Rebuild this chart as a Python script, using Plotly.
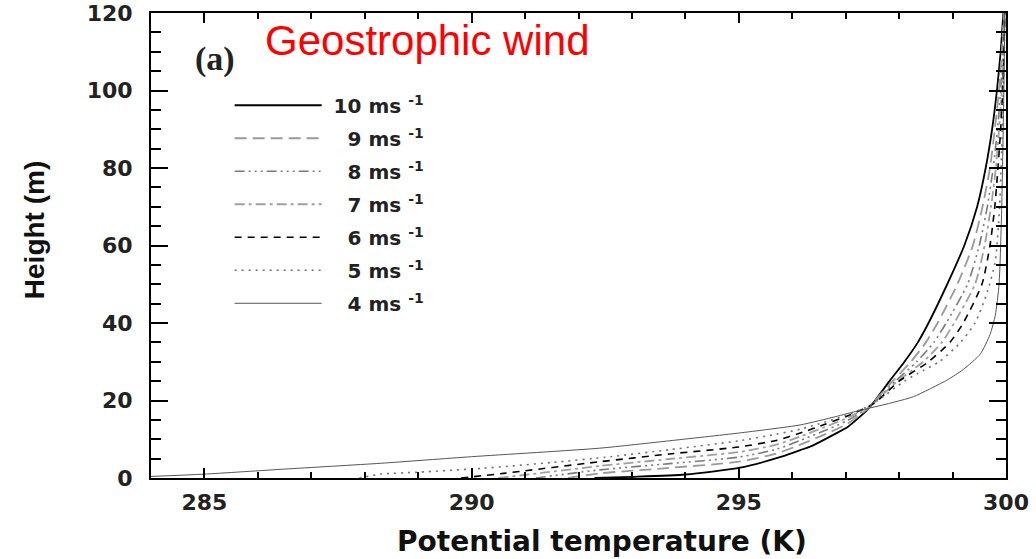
import plotly.graph_objects as go

# Potential temperature profiles (K) against height (m) for each geostrophic wind speed
theta_10 = [292.3, 293.0, 294.0, 295.0, 295.8, 296.15, 296.4, 296.75, 297.05, 297.4, 297.55, 297.82,
            298.1, 298.35, 298.55, 298.9, 299.22, 299.46, 299.62, 299.74, 299.83, 299.9, 299.95]
height_10 = [0, 0.3, 0.9, 2.6, 5.5, 7.2, 8.5, 11.0, 13.3, 17.5, 20, 25,
             30, 35, 40, 50, 60, 70, 80, 90, 100, 110, 120]

theta_9 = [291.8, 292.4, 293.6, 295.0, 295.7, 296.15, 296.6, 297.03, 297.45, 297.55, 297.88,
           298.22, 298.5, 298.72, 299.09, 299.38, 299.56, 299.7, 299.79, 299.87, 299.92, 299.96]
height_9 = [0, 1.2, 2.5, 4.2, 6.3, 8.6, 11.2, 14.0, 18.3, 20, 25,
            30, 35, 40, 50, 60, 70, 80, 90, 100, 110, 120]

theta_8 = [291.2, 292.4, 293.7, 295.0, 295.7, 296.15, 296.6, 297.03, 297.45, 297.57, 297.93,
           298.33, 298.65, 298.88, 299.28, 299.5, 299.65, 299.76, 299.84, 299.9, 299.94, 299.97]
height_8 = [0, 2.1, 3.7, 5.4, 7.4, 9.7, 12.2, 14.8, 18.4, 20, 25,
            30, 35, 40, 50, 60, 70, 80, 90, 100, 110, 120]

theta_7 = [290.5, 291.3, 292.4, 293.7, 295.0, 295.7, 296.15, 296.6, 297.03, 297.45, 297.58, 297.97,
           298.45, 298.8, 299.03, 299.42, 299.6, 299.72, 299.81, 299.87, 299.92, 299.95, 299.97]
height_7 = [0, 1.3, 3.1, 4.9, 6.7, 8.6, 10.7, 13.1, 15.5, 18.5, 20, 25,
            30, 35, 40, 50, 60, 70, 80, 90, 100, 110, 120]

theta_6 = [289.8, 290.6, 292.4, 293.7, 295.0, 295.7, 296.15, 296.6, 297.03, 297.45, 297.6, 298.0,
           298.55, 298.95, 299.2, 299.55, 299.7, 299.79, 299.85, 299.9, 299.94, 299.96, 299.98]
height_6 = [0, 1.2, 4.2, 6.2, 8.0, 9.7, 11.6, 13.8, 16.0, 18.6, 20, 25,
            30, 35, 40, 50, 60, 70, 80, 90, 100, 110, 120]

theta_5 = [287.9, 288.3, 289.0, 290.2, 291.5, 292.6, 293.7, 295.0, 295.7, 296.15, 296.6, 297.03,
           297.45, 297.6, 298.1, 298.35, 298.75, 299.15, 299.42, 299.65, 299.8, 299.88, 299.93,
           299.96, 299.98]
height_5 = [0, 1.0, 1.5, 2.5, 4.0, 5.5, 7.3, 9.6, 11.3, 12.6, 14.4, 16.3,
            18.7, 20, 25, 27, 30, 35, 40, 48, 56, 70, 90,
            105, 120]

theta_4 = [284.0, 285.0, 286.5, 288.3, 290.0, 292.4, 293.7, 295.0, 296.15, 296.8, 297.28, 297.8,
           298.27, 298.9, 299.2, 299.52, 299.7, 299.8, 299.87, 299.92, 299.96, 299.98]
height_4 = [0.4, 1.0, 2.3, 3.8, 5.5, 7.7, 9.6, 11.6, 13.7, 15.8, 17.5, 19.2,
            21, 25.3, 28, 32, 37, 42, 50, 70, 100, 120]

wind_labels = ["10", "9", "8", "7", "6", "5", "4"]

series = [
    (theta_10, height_10, dict(color="#000000", width=1.8, dash="solid")),
    (theta_9, height_9, dict(color="#9a9a9a", width=1.8, dash="12px,6px")),
    (theta_8, height_8, dict(color="#7a7a7a", width=1.6, dash="10px,4px,2px,4px,2px,4px,2px,4px")),
    (theta_7, height_7, dict(color="#a0a0a0", width=1.8, dash="10px,4px,3px,4px")),
    (theta_6, height_6, dict(color="#000000", width=1.6, dash="7px,6px")),
    (theta_5, height_5, dict(color="#707070", width=1.6, dash="2px,5px")),
    (theta_4, height_4, dict(color="#555555", width=1.0, dash="solid")),
]

fig = go.Figure()
for (th, zz, style), lab in zip(series, wind_labels):
    pad = "\u00a0" if len(lab) == 2 else "\u00a0\u2007"
    fig.add_trace(go.Scatter(
        x=th, y=zz, mode="lines",
        line=dict(shape="spline", smoothing=0.6, **style),
        name=f"<b>{pad}{lab} ms <sup>-1</sup></b>",
        legendgroup=lab,
    ))

tick_font = dict(family="DejaVu Sans", size=22, color="#222222", weight="bold")

fig.update_xaxes(
    range=[284, 300], tickvals=[285, 290, 295, 300],
    ticks="inside", ticklen=10, tickwidth=1.5, tickcolor="black",
    minor=dict(dtick=1, tick0=284, ticks="inside", ticklen=6, tickwidth=1.5, tickcolor="black"),
    showline=True, linewidth=2, linecolor="black", mirror="ticks",
    showgrid=False, zeroline=False, automargin=False,
    tickfont=tick_font, ticklabelstandoff=4,
)
fig.update_yaxes(
    range=[0, 120], tickvals=[0, 20, 40, 60, 80, 100, 120],
    ticks="inside", ticklen=17, tickwidth=1.5, tickcolor="black",
    minor=dict(dtick=5, tick0=0, ticks="inside", ticklen=10, tickwidth=1.5, tickcolor="black"),
    showline=True, linewidth=2, linecolor="black", mirror="ticks",
    showgrid=False, zeroline=False, automargin=False,
    tickfont=tick_font, ticklabelstandoff=12,
)

# Axis titles
fig.add_annotation(x=0.5275, y=-0.1355, xref="paper", yref="paper",
                   text="<b>Potential temperature (K)</b>", showarrow=False,
                   xanchor="center", yanchor="middle",
                   font=dict(family="DejaVu Sans", size=28, color="#111111"))
fig.add_annotation(x=-0.1368, y=0.533, xref="paper", yref="paper",
                   text="<b>Height (m)</b>", showarrow=False, textangle=-90,
                   xanchor="center", yanchor="middle",
                   font=dict(family="Liberation Sans", size=28, color="#111111"))

fig.add_annotation(x=0.075, y=0.9, xref="paper", yref="paper", text="<b>(a)</b>",
                   showarrow=False, xanchor="center", yanchor="middle",
                   font=dict(family="Liberation Serif", size=34, color="#222222"))
fig.add_annotation(x=0.1305, y=0.941, xref="paper", yref="paper", text="Geostrophic wind",
                   showarrow=False, xanchor="left", yanchor="middle",
                   font=dict(family="Liberation Sans", size=42, color="#ff0000"))

fig.update_layout(
    width=1036, height=559,
    margin=dict(l=151, r=30, t=13, b=81),
    paper_bgcolor="white", plot_bgcolor="white",
    showlegend=True,
    legend=dict(x=0.092, y=0.8435, xanchor="left", yanchor="top",
                bgcolor="rgba(0,0,0,0)", itemwidth=87, tracegroupgap=4,
                font=dict(family="DejaVu Sans", size=20, color="#222222")),
)

fig.write_html("out.html")
